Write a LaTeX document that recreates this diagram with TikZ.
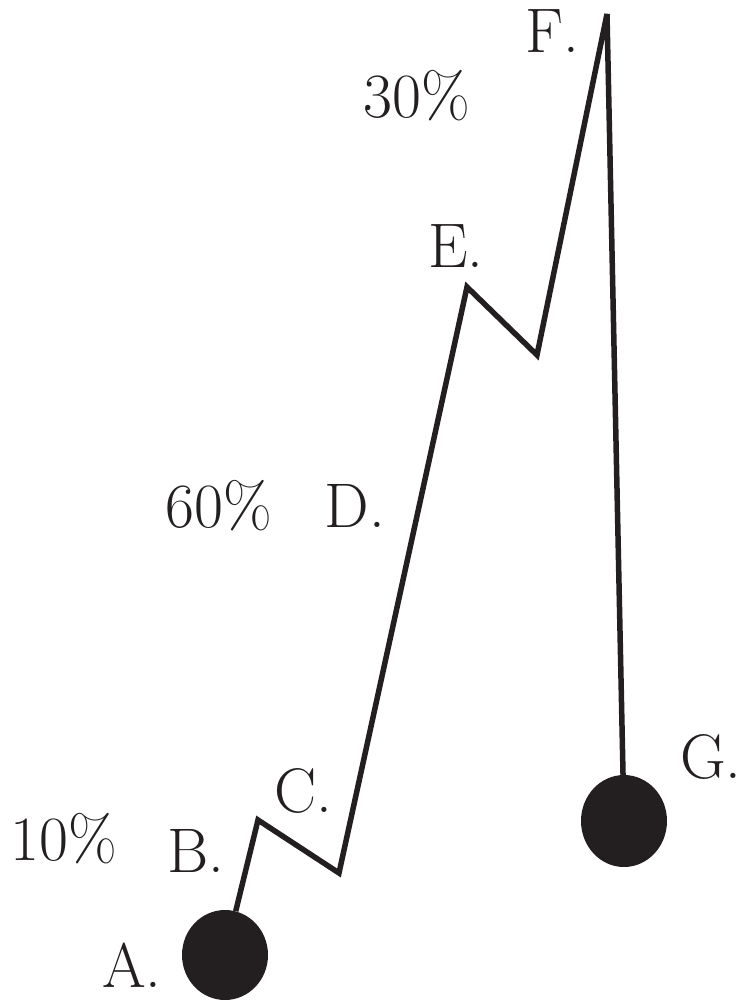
\documentclass[tikz,border=0pt]{standalone}
\usepackage{fontspec}
\usetikzlibrary{shapes.geometric}
\definecolor{ink}{RGB}{35,31,32}
\begin{document}
\begin{tikzpicture}[x=1pt,y=-1pt,
  ball/.style={ellipse,fill=ink,draw=none,inner sep=0pt},
  lbl/.style={anchor=base,inner sep=0pt,font=\fontsize{63}{70}\selectfont,text=ink},
  zig/.style={line width=5.5pt,draw=ink,line join=miter,miter limit=3}]
\useasboundingbox (0,0) rectangle (741,1002);
\node[ball,minimum width=86pt,minimum height=90pt] (A) at (225,955) {};
\node[ball,minimum width=86pt,minimum height=92pt] (G) at (624,821) {};
\coordinate (B) at (258,820);
\coordinate (C) at (339,873);
\coordinate (E) at (467,287);
\coordinate (Ev) at (537,355);
\coordinate (F) at (607,14);
\draw[zig] (A) -- (B) -- (C) -- (E) -- (Ev) -- (F) -- (G);
\node[lbl] (tF) at (552,52) {F.};
\node[lbl] (t30) at (417,117) {30\%};
\node[lbl] (tE) at (456,267) {E.};
\node[lbl] (t60) at (219,527) {60\%};
\node[lbl] (tD) at (355,527) {D.};
\node[lbl] (tC) at (303,812) {C.};
\node[lbl] (tB) at (196,872) {B.};
\node[lbl] (t10) at (64,860) {10\%};
\node[lbl] (tA) at (132,987) {A.};
\node[lbl] (tG) at (711,778) {G.};
\end{tikzpicture}
\end{document}
